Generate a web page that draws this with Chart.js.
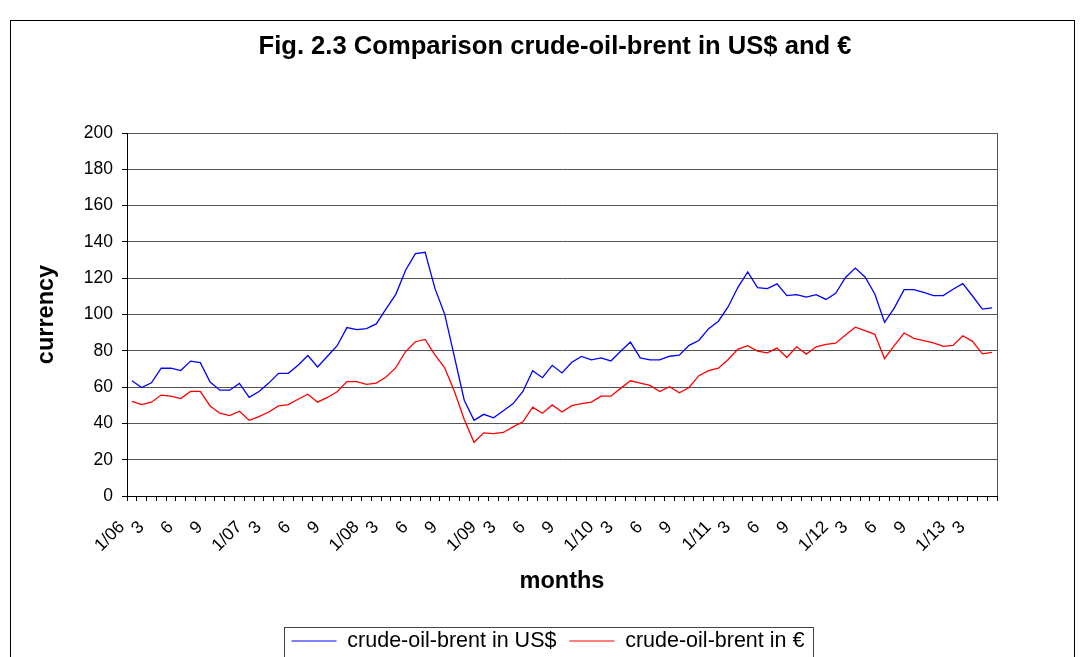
<!DOCTYPE html>
<html>
<head>
<meta charset="utf-8">
<script src="https://cdn.jsdelivr.net/npm/chart.js@4.4.1/dist/chart.umd.min.js"></script>
<style>
  html, body { margin: 0; padding: 0; background: #fff; }
</style>
</head>
<body>
<canvas id="oilChart" width="1084" height="657"></canvas>
<script>
// months from 1/06 to 5/13
const months = [
  "1/06", "2/06", "3/06", "4/06", "5/06", "6/06", "7/06", "8/06", "9/06", "10/06", "11/06", "12/06",
  "1/07", "2/07", "3/07", "4/07", "5/07", "6/07", "7/07", "8/07", "9/07", "10/07", "11/07", "12/07",
  "1/08", "2/08", "3/08", "4/08", "5/08", "6/08", "7/08", "8/08", "9/08", "10/08", "11/08", "12/08",
  "1/09", "2/09", "3/09", "4/09", "5/09", "6/09", "7/09", "8/09", "9/09", "10/09", "11/09", "12/09",
  "1/10", "2/10", "3/10", "4/10", "5/10", "6/10", "7/10", "8/10", "9/10", "10/10", "11/10", "12/10",
  "1/11", "2/11", "3/11", "4/11", "5/11", "6/11", "7/11", "8/11", "9/11", "10/11", "11/11", "12/11",
  "1/12", "2/12", "3/12", "4/12", "5/12", "6/12", "7/12", "8/12", "9/12", "10/12", "11/12", "12/12",
  "1/13", "2/13", "3/13", "4/13", "5/13"
];

const brentUsd = [
  63.5, 59.8, 62.4, 70.4, 70.4, 69.1, 74.3, 73.5, 62.8, 58.3, 58.3, 62.0,
  54.4, 57.6, 62.2, 67.6, 67.6, 72.0, 77.4, 71.1, 77.0, 82.8, 92.8, 91.7,
  92.2, 94.8, 103.1, 111.1, 124.4, 133.5, 134.3, 114.4, 100.2, 76.5, 52.8, 41.7,
  45.0, 43.1, 47.0, 50.9, 57.6, 69.0, 65.2, 72.0, 67.8, 73.7, 76.9, 75.0,
  76.1, 74.4, 79.8, 84.8, 76.1, 75.0, 75.0, 77.0, 77.6, 83.0, 85.7, 92.2,
  96.3, 104.3, 115.0, 123.5, 114.8, 114.3, 116.9, 110.4, 110.9, 109.6, 110.9, 108.3,
  111.7, 120.4, 125.6, 120.7, 111.3, 95.7, 103.7, 113.7, 113.7, 112.2, 110.4, 110.4,
  113.9, 117.0, 110.2, 103.0, 103.7
];

const brentEur = [
  52.2, 50.4, 51.7, 55.6, 55.0, 53.7, 57.6, 57.6, 49.6, 45.6, 44.3, 46.7,
  41.7, 43.7, 46.3, 49.6, 50.4, 53.3, 56.1, 51.7, 54.3, 57.4, 63.0, 63.0,
  61.5, 62.2, 65.6, 70.7, 79.6, 85.0, 86.3, 77.8, 70.6, 57.6, 42.2, 29.6,
  34.8, 34.4, 35.0, 38.1, 40.9, 48.9, 45.6, 50.2, 46.3, 49.8, 50.9, 51.7,
  55.0, 55.0, 59.3, 63.5, 62.2, 60.9, 57.6, 60.2, 56.9, 59.8, 66.3, 69.1,
  70.4, 75.2, 80.9, 82.8, 79.8, 78.9, 81.5, 76.3, 82.2, 78.2, 82.2, 83.5,
  84.2, 88.7, 93.0, 91.1, 89.1, 75.7, 83.0, 89.8, 86.9, 85.6, 84.4, 82.4,
  83.0, 88.3, 85.2, 78.3, 79.1
];

// month numbers that get a label besides January
const labelledMonths = ["3", "6", "9"];
const yRange = { min: 0, max: 200, step: 20 };

Chart.defaults.font.family = "'Liberation Sans', Arial, sans-serif";
Chart.defaults.color = "#000";

const frameBox = {
  id: "frameBox",
  afterLayout(chart) {
    // nudge legend and title a bit to the left, like the original
    const lg = chart.legend;
    if (lg) {
      lg.left -= 14;
      lg.right -= 14;
    }
    const tt = chart.titleBlock;
    if (tt) {
      tt.left -= 7;
      tt.right -= 7;
    }
  },
  afterDraw(chart) {
    const ctx = chart.ctx;
    const area = chart.chartArea;
    ctx.save();
    ctx.lineWidth = 1;

    // right edge of the plot area
    ctx.strokeStyle = "#555";
    const rx = Math.round(area.right) + 0.5;
    ctx.beginPath();
    ctx.moveTo(rx, Math.round(area.top));
    ctx.lineTo(rx, Math.round(area.bottom));
    ctx.stroke();

    // outer chart frame
    ctx.strokeStyle = "#000";
    ctx.strokeRect(10.5, 20.5, 1064, 700);

    // legend frame
    const boxes = chart.legend.legendHitBoxes;
    if (boxes && boxes.length) {
      const first = boxes[0];
      const last = boxes[boxes.length - 1];
      const x0 = Math.round(first.left - 8) + 0.5;
      const x1 = Math.round(last.left + last.width + 9) + 0.5;
      const y0 = Math.round(first.top - 3.5) + 0.5;
      ctx.strokeStyle = "#444";
      ctx.strokeRect(x0, y0, x1 - x0, 80);
    }
    ctx.restore();
  }
};

const ctx = document.getElementById("oilChart").getContext("2d");

new Chart(ctx, {
  type: "line",
  data: {
    labels: months,
    datasets: [
      {
        label: "crude-oil-brent in US$",
        data: brentUsd,
        borderColor: "#0000ff",
        backgroundColor: "#0000ff",
        borderWidth: 1.3,
        pointRadius: 0,
        tension: 0,
        fill: false
      },
      {
        label: "crude-oil-brent in €",
        data: brentEur,
        borderColor: "#ff0000",
        backgroundColor: "#ff0000",
        borderWidth: 1.3,
        pointRadius: 0,
        tension: 0,
        fill: false
      }
    ]
  },
  options: {
    responsive: false,
    animation: false,
    devicePixelRatio: 1,
    layout: {
      padding: { left: 20, right: 87, top: 22, bottom: 0 }
    },
    plugins: {
      title: {
        display: true,
        fullSize: false,
        text: "Fig. 2.3 Comparison crude-oil-brent in US$ and €",
        color: "#000",
        font: { size: 25.6, weight: "bold" },
        padding: { top: 10, bottom: 70.3 }
      },
      legend: {
        position: "bottom",
        fullSize: false,
        maxHeight: 39.75,
        labels: {
          boxWidth: 45,
          boxHeight: 1,
          padding: 13,
          color: "#000",
          font: { size: 21.5 },
          generateLabels: (chart) =>
            Chart.defaults.plugins.legend.labels
              .generateLabels(chart)
              .map((item) => ({ ...item, lineWidth: 0 }))
        }
      },
      tooltip: { enabled: false }
    },
    scales: {
      x: {
        offset: true,
        grid: {
          offset: true,
          drawOnChartArea: false,
          tickLength: 5,
          tickColor: "#000"
        },
        border: { color: "#000", width: 1 },
        ticks: {
          autoSkip: false,
          maxRotation: 45,
          minRotation: 45,
          padding: 16,
          labelOffset: -10,
          color: "#000",
          font: { size: 17.5 },
          callback: function (value) {
            const label = this.getLabelForValue(value);
            const m = label.split("/")[0];
            if (m === "1") return label;
            return labelledMonths.includes(m) ? m : "";
          }
        },
        title: {
          display: true,
          text: "months",
          color: "#000",
          font: { size: 23.5, weight: "bold" },
          padding: { top: 0, bottom: 21.85 }
        },
        afterFit: (scale) => {
          scale.height = 121.25;
        }
      },
      y: {
        min: yRange.min,
        max: yRange.max,
        grid: {
          color: "#555",
          tickColor: "#000",
          tickLength: 5
        },
        border: { color: "#000", width: 1 },
        ticks: {
          stepSize: yRange.step,
          padding: 9,
          color: "#000",
          font: { size: 17.5 }
        },
        title: {
          display: true,
          text: "currency",
          color: "#000",
          font: { size: 23.5, weight: "bold" },
          padding: { top: 12, bottom: 0 }
        },
        afterFit: (scale) => {
          scale.width = 107;
        }
      }
    }
  },
  plugins: [frameBox]
});
</script>
</body>
</html>
